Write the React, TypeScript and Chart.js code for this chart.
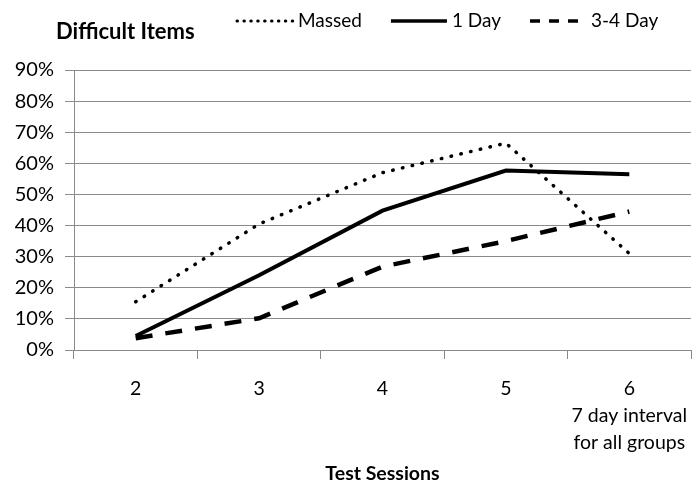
import { useEffect, useRef } from 'react';
import { Chart, registerables } from 'chart.js';

Chart.register(...registerables);

// ---- data ----
const sessionLabels: (string | string[])[] = ['2', '3', '4', '5', ['6', '7 day interval', 'for all groups']];
const seriesNames = ['Massed', '1 Day', '3-4 Day'];
const massed = [15.5, 40.5, 57, 66.5, 31];
const oneDay = [4.5, 24, 44.8, 57.7, 56.5];
const threeFourDay = [3.8, 10.2, 26.8, 35, 44.5];
const yMin = 0;
const yMax = 90;
const yStep = 10;
const chartTitle = 'Difficult Items';
const xAxisTitle = 'Test Sessions';

const FONT = 'Lato';
const GRID = '#8a8a8a';

const headerPlugin = {
  id: 'header',
  afterDraw(chart: any) {
    const ctx = chart.ctx as CanvasRenderingContext2D;
    ctx.save();
    ctx.fillStyle = '#000';
    ctx.textBaseline = 'middle';
    ctx.textAlign = 'left';
    ctx.font = `bold 22px ${FONT}`;
    ctx.fillText(chartTitle, 56, 32);

    ctx.font = `19px ${FONT}`;
    let x = 237;
    const y = 21;
    const lineLen = 56;
    chart.data.datasets.forEach((ds: any) => {
      ctx.save();
      ctx.strokeStyle = '#000';
      ctx.lineWidth = ds.legendWidth;
      ctx.lineCap = ds.borderCapStyle || 'butt';
      ctx.setLineDash(ds.legendDash);
      ctx.beginPath();
      ctx.moveTo(x, y);
      ctx.lineTo(x + lineLen, y);
      ctx.stroke();
      ctx.restore();
      x += lineLen + 5;
      ctx.fillText(ds.label, x, y);
      x += ctx.measureText(ds.label).width + 29;
    });
    ctx.restore();
  },
};

export default function App() {
  const ref = useRef<HTMLCanvasElement | null>(null);
  useEffect(() => {
    if (!ref.current) return;
    const chart = new Chart(ref.current, {
      type: 'line',
      data: {
        labels: sessionLabels,
        datasets: [
          {
            label: seriesNames[0],
            data: massed,
            borderColor: '#000',
            borderWidth: 3.5,
            borderDash: [0.5, 9.5],
            borderCapStyle: 'round',
            pointRadius: 0,
            tension: 0,
            fill: false,
            legendDash: [0.5, 6.4],
            legendWidth: 3,
          } as any,
          {
            label: seriesNames[1],
            data: oneDay,
            borderColor: '#000',
            borderWidth: 4,
            borderDash: [],
            pointRadius: 0,
            tension: 0,
            fill: false,
            legendDash: [],
            legendWidth: 3.5,
          } as any,
          {
            label: seriesNames[2],
            data: threeFourDay,
            borderColor: '#000',
            borderWidth: 4.5,
            borderDash: [17, 13],
            pointRadius: 0,
            tension: 0,
            fill: false,
            legendDash: [10, 9],
            legendWidth: 3.5,
          } as any,
        ],
      },
      options: {
        animation: false,
        responsive: true,
        maintainAspectRatio: false,
        layout: { padding: { top: 70, right: 3, left: 0, bottom: 0 } },
        plugins: {
          legend: { display: false },
          title: { display: false },
          tooltip: { enabled: false },
        },
        scales: {
          x: {
            type: 'category',
            offset: true,
            grid: {
              offset: true,
              drawOnChartArea: false,
              drawTicks: true,
              tickLength: 9,
              color: GRID,
            },
            border: { display: true, color: GRID, width: 1 },
            ticks: {
              color: '#000',
              font: { family: FONT, size: 19.5, lineHeight: '27px' } as any,
              padding: 16,
              maxRotation: 0,
              autoSkip: false,
            },
            title: {
              display: true,
              text: xAxisTitle,
              color: '#000',
              font: { family: FONT, size: 19.5, weight: 'bold' },
              padding: { top: 0, bottom: 13 },
            },
            afterFit(scale: any) {
              scale.height = 148;
              scale.paddingRight = 0;
              scale.paddingLeft = 0;
            },
          },
          y: {
            min: yMin,
            max: yMax,
            grid: { color: GRID, drawTicks: true, tickLength: 9 },
            border: { display: true, color: GRID, width: 1 },
            ticks: {
              stepSize: yStep,
              color: '#000',
              padding: 11,
              font: { family: FONT, size: 20 },
              callback: (v: any) => `${v}%`,
            },
            afterFit(scale: any) {
              scale.width = 74;
            },
          },
        },
      },
      plugins: [headerPlugin],
    });
    return () => chart.destroy();
  }, []);
  return (
    <div style={{ position: 'absolute', left: 0, top: 0, width: 694, height: 498, background: '#fff' }}>
      <canvas ref={ref} />
    </div>
  );
}
